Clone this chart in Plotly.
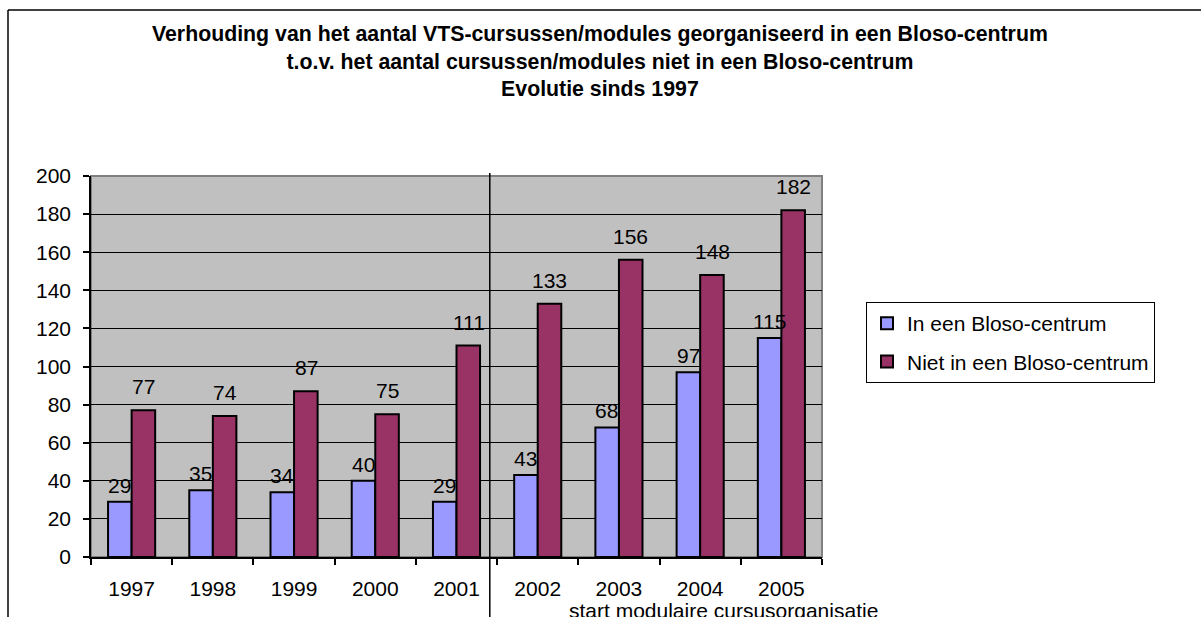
import plotly.graph_objects as go

years = ["1997", "1998", "1999", "2000", "2001", "2002", "2003", "2004", "2005"]
in_bloso = [29, 35, 34, 40, 29, 43, 68, 97, 115]
niet_in_bloso = [77, 74, 87, 75, 111, 133, 156, 148, 182]
series_names = ["In een Bloso-centrum", "Niet in een Bloso-centrum"]
title_lines = [
    "Verhouding van het aantal VTS-cursussen/modules georganiseerd in een Bloso-centrum",
    "t.o.v. het aantal cursussen/modules niet in een Bloso-centrum",
    "Evolutie sinds 1997",
]
note_text = "start modulaire cursusorganisatie"
separator_pos = 4.41  # between 2001 and 2002 (category index units)

FONT = "Liberation Sans, Arial, sans-serif"
BLUE = "#9999FF"
MAROON = "#993366"
FS = 21

W, H = 1201, 617
L, R, T, B = 91, 822, 176, 557

fig = go.Figure()
fig.add_trace(go.Bar(x=years, y=in_bloso, name=series_names[0],
                     marker=dict(color=BLUE, line=dict(color="black", width=2)), legendgroup="a"))
fig.add_trace(go.Bar(x=years, y=niet_in_bloso, name=series_names[1],
                     marker=dict(color=MAROON, line=dict(color="black", width=2)), legendgroup="b"))

annotations = []
for i, v in enumerate(in_bloso):
    annotations.append(dict(x=i, y=v, xref="x", yref="y", text=str(v), showarrow=False,
                            xshift=-12, yshift=3, yanchor="bottom",
                            font=dict(family=FONT, size=FS, color="black")))
for i, v in enumerate(niet_in_bloso):
    annotations.append(dict(x=i, y=v, xref="x", yref="y", text=str(v), showarrow=False,
                            xshift=12, yshift=10, yanchor="bottom",
                            font=dict(family=FONT, size=FS, color="black")))

pw = R - L
ph = B - T
def px_x(p):
    return (p - L) / pw
def px_y(p):
    return (B - p) / ph

annotations.append(dict(x=px_x(723), y=px_y(597), xref="paper", yref="paper", text=note_text,
                        showarrow=False, xanchor="center", yanchor="top",
                        font=dict(family=FONT, size=FS, color="black")))
annotations.append(dict(x=px_x(600), y=px_y(20), xref="paper", yref="paper",
                        text="<b>" + "<br>".join(title_lines) + "</b>",
                        showarrow=False, xanchor="center", yanchor="top", align="center",
                        font=dict(family=FONT, size=21.3, color="black")))

shapes = [
    dict(type="line", xref="paper", yref="paper", x0=px_x(8), x1=px_x(8), y0=px_y(10), y1=px_y(700),
         line=dict(color="black", width=1.5)),
    dict(type="line", xref="paper", yref="paper", x0=px_x(8), x1=px_x(1300), y0=px_y(10), y1=px_y(10),
         line=dict(color="black", width=1.5)),
    dict(type="rect", xref="paper", yref="paper", x0=0, x1=1, y0=0, y1=1,
         line=dict(color="#808080", width=2), layer="below"),
    dict(type="line", xref="x", yref="paper", x0=separator_pos, x1=separator_pos, y0=px_y(173), y1=px_y(700),
         line=dict(color="black", width=1.5)),
]

fig.update_layout(
    width=W, height=H,
    margin=dict(l=L, r=W - R, t=T, b=H - B, pad=0),
    paper_bgcolor="white",
    plot_bgcolor="#C0C0C0",
    barmode="group",
    bargap=0.42,
    bargroupgap=0,
    font=dict(family=FONT, size=FS, color="black"),
    showlegend=True,
    legend=dict(x=px_x(866), y=px_y(302), xanchor="left", yanchor="top",
                bgcolor="white", bordercolor="black", borderwidth=1,
                font=dict(family=FONT, size=FS, color="black"),
                tracegroupgap=8, itemwidth=30, entrywidth=220, entrywidthmode="pixels"),
    xaxis=dict(type="category", range=[-0.5, 8.5], autorange=False, showgrid=False,
               ticks="outside", tickson="boundaries", tickangle=0,
               ticklen=6, tickcolor="black", tickwidth=1.5, showline=True, linecolor="black", linewidth=1.5,
               ticklabelstandoff=12, tickfont=dict(family=FONT, size=FS)),
    yaxis=dict(range=[0, 200], autorange=False, dtick=20, showgrid=True, gridcolor="black", gridwidth=1,
               ticks="outside", ticklen=6, tickcolor="black", tickwidth=1.5,
               showline=True, linecolor="black", linewidth=1.5, zeroline=False,
               ticklabelstandoff=8, tickfont=dict(family=FONT, size=FS)),
    annotations=annotations,
    shapes=shapes,
)

fig.write_html("out.html", config={"displayModeBar": False},
               post_script="document.body.style.margin='0';")
